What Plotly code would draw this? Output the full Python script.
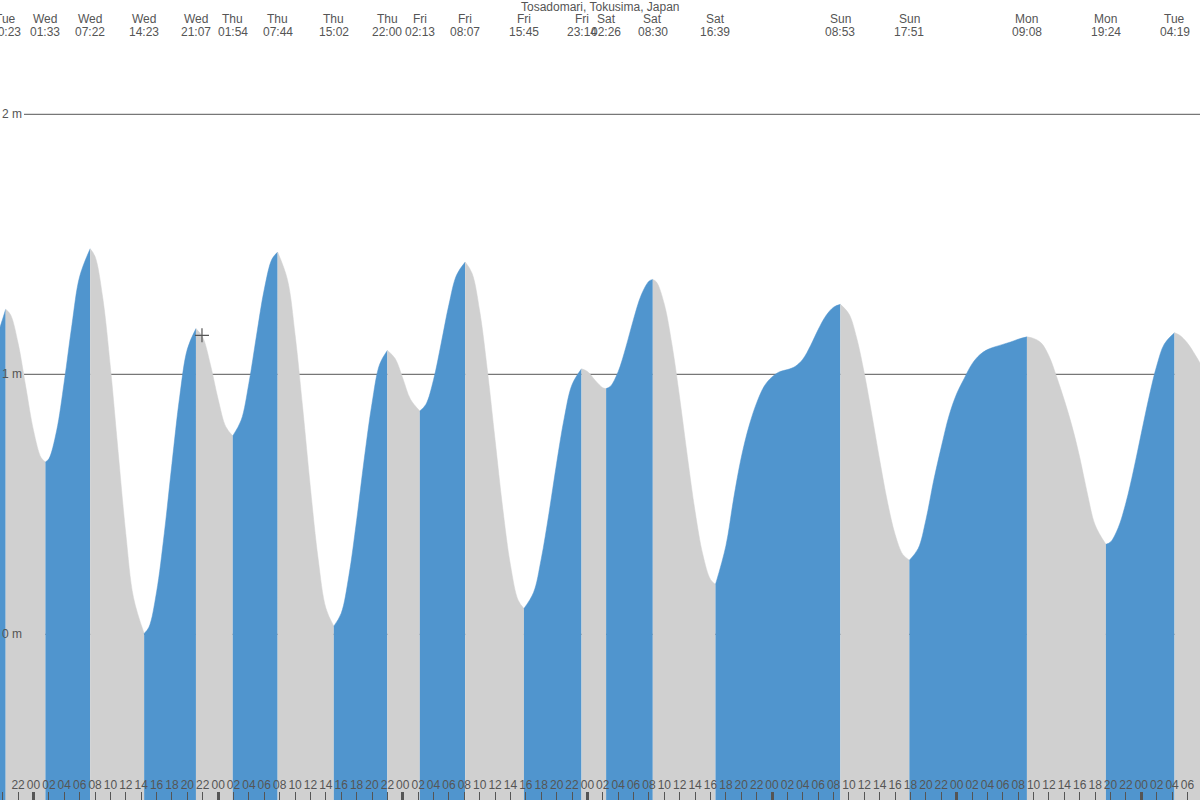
import pandas as pd
import plotly.graph_objects as go

# ---------------- data ----------------
title = "Tosadomari, Tokusima, Japan"

# tide extremes (local time) and heights in metres
ext_times = [
    "2024-01-02 20:23", "2024-01-03 01:33", "2024-01-03 07:22", "2024-01-03 14:23",
    "2024-01-03 21:07", "2024-01-04 01:54", "2024-01-04 07:44", "2024-01-04 15:02",
    "2024-01-04 22:00", "2024-01-05 02:13", "2024-01-05 08:07", "2024-01-05 15:45",
    "2024-01-05 23:14", "2024-01-06 02:26", "2024-01-06 08:30", "2024-01-06 16:39",
    "2024-01-07 08:53", "2024-01-07 17:51", "2024-01-08 09:08", "2024-01-08 19:24",
    "2024-01-09 04:19",
]
ext_heights = [
    1.25, 0.663, 1.483, 0.003,
    1.176, 0.763, 1.470, 0.031,
    1.092, 0.859, 1.432, 0.099,
    1.021, 0.945, 1.365, 0.192,
    1.269, 0.285, 1.144, 0.346,
    1.160,
]

# hourly water level, starting Tue 19:00
hourly_start = "2024-01-02 19:00"
hourly_heights = [
    1.12, 1.24, 1.230, 1.119, 0.951, 0.784, 0.679, 0.675, 0.782, 0.972,
    1.191, 1.376, 1.475, 1.453, 1.294, 1.026, 0.702, 0.386, 0.141, 0.014,
    0.027, 0.163, 0.388, 0.657, 0.913, 1.097, 1.175, 1.142, 1.037, 0.904,
    0.798, 0.763, 0.824, 0.966, 1.151, 1.327, 1.443, 1.465, 1.365, 1.153,
    0.868, 0.562, 0.290, 0.101, 0.031, 0.081, 0.226, 0.438, 0.676, 0.888,
    1.039, 1.092, 1.061, 0.985, 0.904, 0.860, 0.884, 0.979, 1.120, 1.268,
    1.382, 1.432, 1.389, 1.243, 1.015, 0.747, 0.483, 0.266, 0.131, 0.101,
    0.161, 0.290, 0.465, 0.658, 0.833, 0.960, 1.019, 1.011, 0.977, 0.948,
    0.954, 1.010, 1.104, 1.212, 1.305, 1.358, 1.354, 1.269, 1.113, 0.908,
    0.683, 0.472, 0.307, 0.211, 0.21, 0.34, 0.52, 0.68, 0.80, 0.89,
    0.955, 0.99, 1.010, 1.018, 1.030, 1.058, 1.110, 1.172, 1.225, 1.258,
    1.269, 1.232, 1.140, 1.003, 0.840, 0.669, 0.510, 0.384, 0.307, 0.288,
    0.33, 0.44, 0.59, 0.72, 0.84, 0.925, 0.985, 1.04, 1.075, 1.095,
    1.106, 1.115, 1.124, 1.135, 1.143, 1.138, 1.12, 1.07, 0.99, 0.90,
    0.80, 0.68, 0.54, 0.42, 0.355, 0.355, 0.41, 0.506, 0.632, 0.773,
    0.912, 1.032, 1.117, 1.158, 1.15, 1.12, 1.075, 1.025,
]

now_time = "2024-01-03 21:54"
now_height = 1.15

y_ticks = [0, 1, 2]

# ---------------- styling ----------------
FONT = "Liberation Sans, Arial, sans-serif"
TXT = "#555555"
RISE = "#5095ce"
FALL = "#d0d0d0"
X_RANGE = ["2024-01-02 19:38:42", "2024-01-09 07:37:48"]
Y_RANGE = [-0.6373, 2.4396]
W, H = 1200, 800

ext = pd.Series(ext_heights, index=pd.to_datetime(ext_times))
hourly = pd.Series(hourly_heights,
                   index=pd.date_range(hourly_start, periods=len(hourly_heights), freq="h"))
# the extreme readings take precedence over hourly readings taken right next to them
near = [min(abs((t - e).total_seconds()) for e in ext.index) < 25 * 60 for t in hourly.index]
hourly = hourly[[not n for n in near]]
curve = pd.concat([hourly, ext]).sort_index()

bounds = [curve.index[0]] + list(ext.index) + [curve.index[-1]]
base = Y_RANGE[0] - 0.2

fig = go.Figure()
for a, b in zip(bounds[:-1], bounds[1:]):
    seg = curve[a:b]
    color = RISE if seg.iloc[-1] > seg.iloc[0] else FALL
    # invisible floor for this stretch
    fig.add_trace(go.Scatter(x=[a, b], y=[base, base], mode="lines",
                             line=dict(width=0, color=color),
                             hoverinfo="skip", showlegend=False))
    fig.add_trace(go.Scatter(x=list(seg.index), y=list(seg.values), mode="lines",
                             fill="tonexty", fillcolor=color,
                             line=dict(width=0.5, color=color, shape="spline", smoothing=1),
                             hoverinfo="skip", showlegend=False))

# current-time marker on the overlay axis (also makes the midnight tick axis render)
fig.add_trace(go.Scatter(x=[pd.Timestamp(now_time)], y=[now_height], mode="markers",
                         xaxis="x2",
                         marker=dict(symbol="cross-thin", size=10,
                                     line=dict(width=1.2, color=TXT)),
                         showlegend=False, hoverinfo="skip"))

shapes = []
for v in y_ticks:
    shapes.append(dict(type="line", xref="paper", yref="y", x0=24 / W, x1=1, y0=v, y1=v,
                       line=dict(color=TXT, width=1), layer="below"))

annotations = []
for v in y_ticks:
    annotations.append(dict(xref="paper", yref="y", x=23.5 / W, y=v, text=f"{v} m",
                            xanchor="right", yanchor="middle", showarrow=False,
                            font=dict(family=FONT, size=12, color=TXT)))

x0, x1 = pd.Timestamp(X_RANGE[0]), pd.Timestamp(X_RANGE[1])
for t in ext.index:
    if x0 <= t <= x1:
        annotations.append(dict(xref="x", yref="paper", x=t, y=1 - 19 / H,
                                text=t.strftime("%a"), showarrow=False,
                                xanchor="center", yanchor="middle",
                                font=dict(family=FONT, size=12, color=TXT)))
        annotations.append(dict(xref="x", yref="paper", x=t, y=1 - 32 / H,
                                text=t.strftime("%H:%M"), showarrow=False,
                                xanchor="center", yanchor="middle",
                                font=dict(family=FONT, size=12, color=TXT)))

annotations.append(dict(xref="paper", yref="paper", x=0.5, y=1 - 7 / H, text=title,
                        showarrow=False, xanchor="center", yanchor="middle",
                        font=dict(family=FONT, size=12, color=TXT)))

fig.update_layout(
    width=W, height=H,
    margin=dict(l=0, r=0, t=0, b=0),
    paper_bgcolor="white", plot_bgcolor="white",
    showlegend=False,
    xaxis=dict(type="date", range=X_RANGE, tickformat="%H", dtick=2 * 3600 * 1000,
               tick0="2024-01-03 00:00", ticks="inside", ticklen=8, tickwidth=1,
               tickcolor=TXT, ticklabelposition="inside", tickangle=0,
               tickfont=dict(family=FONT, size=12, color=TXT),
               showgrid=False, zeroline=False, showline=False, fixedrange=True),
    xaxis2=dict(type="date", overlaying="x", matches="x", anchor="y", side="bottom",
                range=X_RANGE, dtick=24 * 3600 * 1000, tick0="2024-01-03 00:00",
                ticks="inside", ticklen=8, tickwidth=3, tickcolor=TXT,
                showticklabels=False, showgrid=False, zeroline=False, showline=False),
    yaxis=dict(range=Y_RANGE, visible=False, fixedrange=True),
    shapes=shapes,
    annotations=annotations,
    hovermode=False,
)

fig.write_html("out.html", config={"displayModeBar": False},
               post_script="document.body.style.margin='0px';")
